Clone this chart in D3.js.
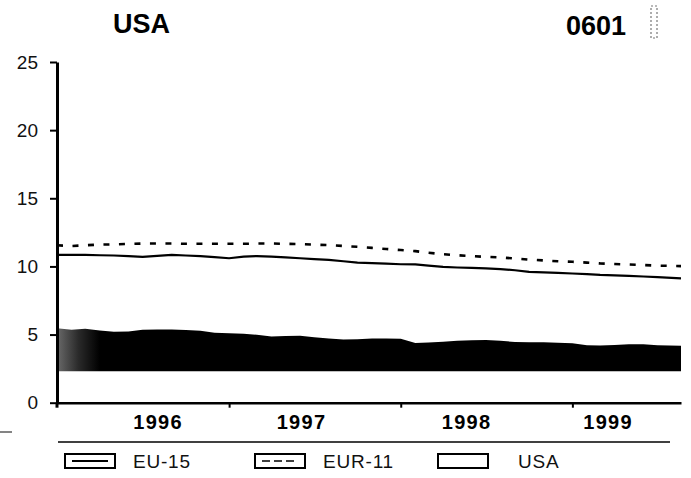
<!DOCTYPE html>
<html>
<head>
<meta charset="UTF-8">
<script src="https://cdn.jsdelivr.net/npm/d3@7"></script>
<style>
  body { margin: 0; background: #fff; }
  svg { display: block; font-family: 'Liberation Sans', Arial, sans-serif; }
</style>
</head>
<body>
<svg id="chart" width="691" height="478"></svg>
<script>
// monthly values, Jan 1996 .. Jul 1999, plus the last reading (Aug 1999)
const eu15 = [10.84, 10.84, 10.84, 10.82, 10.8, 10.76, 10.7, 10.78, 10.84, 10.8, 10.75, 10.68,
  10.6, 10.72, 10.76, 10.72, 10.66, 10.6, 10.54, 10.48, 10.38, 10.28, 10.24, 10.2,
  10.16, 10.15, 10.06, 9.96, 9.92, 9.9, 9.86, 9.8, 9.72, 9.6, 9.56, 9.52,
  9.48, 9.44, 9.38, 9.34, 9.3, 9.26, 9.22, 9.12];
const eur11 = [11.55, 11.5, 11.55, 11.6, 11.62, 11.65, 11.68, 11.68, 11.68, 11.66, 11.66, 11.66,
  11.66, 11.66, 11.68, 11.68, 11.66, 11.64, 11.6, 11.56, 11.5, 11.44, 11.36, 11.28,
  11.2, 11.12, 11.0, 10.9, 10.82, 10.76, 10.7, 10.66, 10.58, 10.5, 10.44, 10.38,
  10.34, 10.28, 10.22, 10.18, 10.14, 10.1, 10.06, 10.02];
const usa = [5.46, 5.35, 5.42, 5.3, 5.2, 5.22, 5.36, 5.38, 5.38, 5.34, 5.28, 5.14,
  5.1, 5.06, 4.98, 4.86, 4.9, 4.92, 4.8, 4.72, 4.64, 4.66, 4.72, 4.72,
  4.7, 4.38, 4.42, 4.48, 4.54, 4.58, 4.6, 4.54, 4.46, 4.43, 4.44, 4.4,
  4.36, 4.22, 4.2, 4.24, 4.28, 4.28, 4.22, 4.18];
const usaBase = 2.3;   // lower edge of the printed USA band

const dates = d3.timeMonth.range(new Date(1996, 0, 1), new Date(1999, 7, 1));
dates.push(new Date(1999, 7, 20));

const yTicks = [0, 5, 10, 15, 20, 25];
const yearTicks = [new Date(1997, 0, 1), new Date(1998, 0, 1), new Date(1999, 0, 1)];
const yearLabels = ['1996', '1997', '1998', '1999'];
const yearLabelAt = [new Date(1996, 7, 3), new Date(1997, 5, 4), new Date(1998, 4, 21), new Date(1999, 2, 18)];
const legendNames = ['EU-15', 'EUR-11', 'USA'];

const svg = d3.select('#chart');

const x = d3.scaleTime()
  .domain([new Date(1996, 0, 1), new Date(1999, 7, 20)])
  .range([57, 681]);
const y = d3.scaleLinear().domain([0, 25]).range([402.7, 62]);

// gradient for the speckled left edge of the USA band
const grad = svg.append('defs').append('linearGradient')
  .attr('id', 'usaFill')
  .attr('gradientUnits', 'userSpaceOnUse')
  .attr('x1', x(dates[0])).attr('x2', x(dates[3]))
  .attr('y1', 0).attr('y2', 0);
grad.append('stop').attr('offset', 0).attr('stop-color', '#6a6a6a');
grad.append('stop').attr('offset', 0.5).attr('stop-color', '#2a2a2a');
grad.append('stop').attr('offset', 1).attr('stop-color', '#000');

const area = d3.area()
  .x((d, i) => x(dates[i]))
  .y0(y(usaBase))
  .y1(d => y(d));

svg.append('path')
  .datum(usa)
  .attr('d', area)
  .attr('fill', 'url(#usaFill)');

const line = d3.line().x((d, i) => x(dates[i])).y(d => y(d));

svg.append('path')
  .datum(eu15)
  .attr('d', line)
  .attr('fill', 'none')
  .attr('stroke', '#000')
  .attr('stroke-width', 2.2);

svg.append('path')
  .datum(eur11)
  .attr('d', line)
  .attr('fill', 'none')
  .attr('stroke', '#000')
  .attr('stroke-width', 2.6)
  .attr('stroke-dasharray', '6,9.5');

// y axis
const yAxis = svg.append('g')
  .attr('transform', 'translate(57,0)')
  .call(d3.axisLeft(y).tickValues(yTicks).tickSize(7).tickSizeOuter(0).tickPadding(12));
yAxis.select('.domain').attr('stroke-width', 3);
yAxis.selectAll('.tick line').attr('stroke-width', 2);
yAxis.selectAll('text')
  .attr('font-size', 19)
  .attr('fill', '#111')
  .attr('font-family', "'Liberation Sans', Arial, sans-serif");

// x axis
const xAxis = svg.append('g')
  .attr('transform', `translate(0,${y(0)})`)
  .call(d3.axisBottom(x).tickValues(yearTicks).tickSize(5).tickSizeOuter(0).tickFormat(''));
xAxis.select('.domain').attr('stroke-width', 2.5);
xAxis.selectAll('.tick line').attr('stroke-width', 2);

svg.append('line')
  .attr('x1', 57).attr('x2', 57)
  .attr('y1', y(0)).attr('y2', y(0) + 5)
  .attr('stroke', '#000').attr('stroke-width', 3);

svg.selectAll('.year')
  .data(yearLabels)
  .join('text')
  .attr('class', 'year')
  .attr('x', (d, i) => x(yearLabelAt[i]))
  .attr('y', 429)
  .attr('text-anchor', 'middle')
  .attr('font-size', 20)
  .attr('font-weight', 'bold')
  .attr('letter-spacing', 1.3)
  .text(d => d);

// titles
svg.append('text')
  .attr('x', 113).attr('y', 33)
  .attr('font-size', 27).attr('font-weight', 'bold')
  .text('USA');
svg.append('text')
  .attr('x', 626).attr('y', 35)
  .attr('text-anchor', 'end')
  .attr('font-size', 27).attr('font-weight', 'bold')
  .text('0601');
svg.append('rect')
  .attr('x', 651).attr('y', 6).attr('width', 6).attr('height', 32)
  .attr('fill', 'none').attr('stroke', '#777').attr('stroke-width', 1.2)
  .attr('stroke-dasharray', '2,2');

// legend rule
svg.append('line')
  .attr('x1', 58).attr('x2', 670).attr('y1', 442).attr('y2', 442)
  .attr('stroke', '#000').attr('stroke-width', 1.5);
svg.append('line')
  .attr('x1', 0).attr('x2', 12).attr('y1', 432).attr('y2', 432)
  .attr('stroke', '#333').attr('stroke-width', 1.2);

// legend
const legendX = [65, 255, 438];
const leg = svg.selectAll('.leg')
  .data(legendNames)
  .join('g')
  .attr('class', 'leg')
  .attr('transform', (d, i) => `translate(${legendX[i]},454)`);

leg.append('rect')
  .attr('width', 50).attr('height', 14)
  .attr('fill', '#fff').attr('stroke', '#000').attr('stroke-width', 2);

leg.filter((d, i) => i < 2).append('line')
  .attr('x1', 7).attr('x2', 43).attr('y1', 7).attr('y2', 7)
  .attr('stroke', '#000')
  .attr('stroke-width', (d, i) => i === 0 ? 2 : 1.5)
  .attr('stroke-dasharray', (d, i) => i === 0 ? null : '8,4');

leg.append('text')
  .attr('x', (d, i) => i === 2 ? 80 : 68)
  .attr('y', 14)
  .attr('font-size', 19)
  .attr('letter-spacing', 0.8)
  .attr('fill', '#111')
  .text(d => d);
</script>
</body>
</html>
